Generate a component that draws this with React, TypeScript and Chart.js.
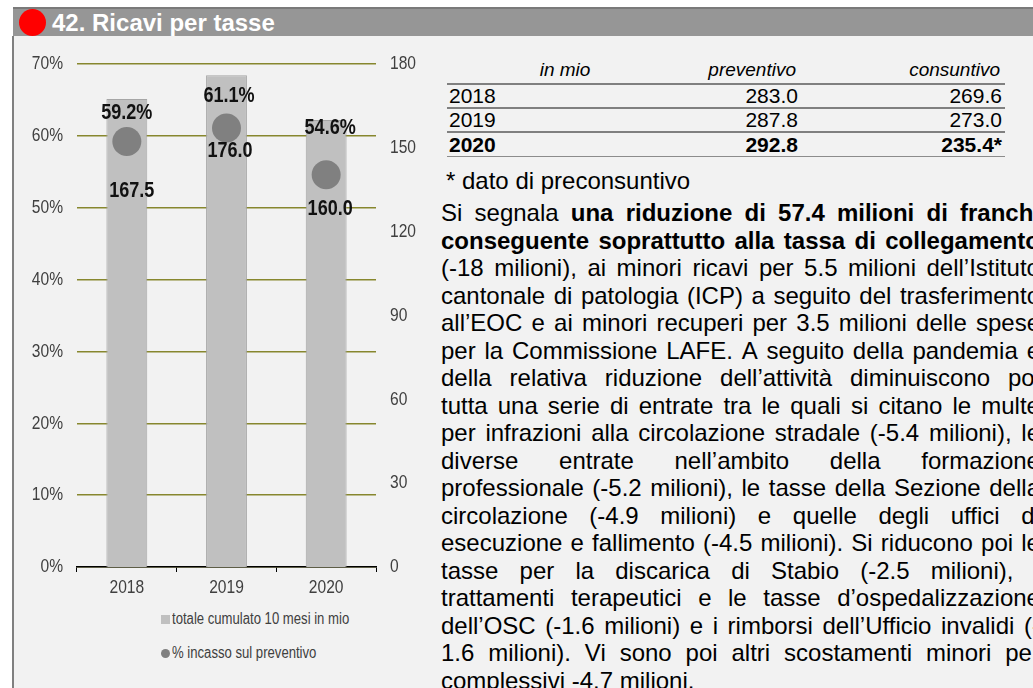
import React, { useEffect, useRef } from 'react';
import { Chart, registerables } from 'chart.js';

Chart.register(...registerables);

// ---------- data ----------
const title = '42. Ricavi per tasse';
const categories = ['2018', '2019', '2020'];
const totals = [167.5, 176.0, 160.0];
const pctIncasso = [59.2, 61.1, 54.6];
const leftTicks = [0, 10, 20, 30, 40, 50, 60, 70];
const rightTicks = [0, 30, 60, 90, 120, 150, 180];
const seriesLabels = ['totale cumulato 10 mesi in mio', '% incasso sul preventivo'];

const tableHeader = ['in mio', 'preventivo', 'consuntivo'];
const tableYears = ['2018', '2019', '2020'];
const tablePreventivo = ['283.0', '287.8', '292.8'];
const tableConsuntivo = ['269.6', '273.0', '235.4*'];
const footnote = '* dato di preconsuntivo';

const paragraphLines = [
  'Si segnala **una riduzione di 57.4 milioni di franchi**',
  '**conseguente soprattutto alla tassa di collegamento**',
  '(-18 milioni), ai minori ricavi per 5.5 milioni dell\u2019Istituto',
  'cantonale di patologia (ICP) a seguito del trasferimento',
  'all\u2019EOC e ai minori recuperi per 3.5 milioni delle spese',
  'per la Commissione LAFE. A seguito della pandemia e',
  'della relativa riduzione dell\u2019attivit\u00e0 diminuiscono poi',
  'tutta una serie di entrate tra le quali si citano le multe',
  'per infrazioni alla circolazione stradale (-5.4 milioni), le',
  'diverse entrate nell\u2019ambito della formazione',
  'professionale (-5.2 milioni), le tasse della Sezione della',
  'circolazione (-4.9 milioni) e quelle degli uffici di',
  'esecuzione e fallimento (-4.5 milioni). Si riducono poi le',
  'tasse per la discarica di Stabio (-2.5 milioni), i',
  'trattamenti terapeutici e le tasse d\u2019ospedalizzazione',
  'dell\u2019OSC (-1.6 milioni) e i rimborsi dell\u2019Ufficio invalidi (-',
  '1.6 milioni). Vi sono poi altri scostamenti minori per',
  'complessivi -4.7 milioni.',
];

// ---------- styles ----------
const SANS = "'Liberation Sans', Arial, sans-serif";
const NARROW_X = 0.82; // horizontal squeeze emulating a narrow face
const BAR_FILL = '#c0c0c0';
const BAR_EDGE = '#a6a6a6';
const POINT_FILL = '#808080';
const GRID = '#87872e';
const TICK_COLOR = '#404040';
const PCT_OFF = [[0, -29], [2.5, -32], [4, -47]];
const TOT_OFF = [[5, 49], [3.5, 22.5], [4, 34]];

function drawNarrow(ctx: any, text: string, x: number, y: number, align: string) {
  ctx.save();
  ctx.translate(x, y);
  ctx.scale(NARROW_X, 1);
  ctx.textAlign = align;
  ctx.fillText(text, 0, 0);
  ctx.restore();
}

const narrowTicksPlugin = {
  id: 'narrowTicks',
  afterDraw(chart: any) {
    const ctx = chart.ctx;
    const area = chart.chartArea;
    ctx.save();
    ctx.fillStyle = TICK_COLOR;
    ctx.font = `19px ${SANS}`;
    ctx.textBaseline = 'middle';
    const y = chart.scales.y;
    y.ticks.forEach((t: any, i: number) => {
      drawNarrow(ctx, t.value + '%', area.left - 14, y.getPixelForTick(i), 'right');
    });
    const y1 = chart.scales.y1;
    y1.ticks.forEach((t: any, i: number) => {
      drawNarrow(ctx, String(t.value), area.right + 14, y1.getPixelForTick(i), 'left');
    });
    const x = chart.scales.x;
    x.ticks.forEach((t: any, i: number) => {
      drawNarrow(ctx, String(x.getLabelForValue(t.value)), x.getPixelForTick(i), area.bottom + 21, 'center');
    });
    ctx.restore();
  },
};

const labelPlugin = {
  id: 'valueLabels',
  afterDatasetsDraw(chart: any) {
    const ctx = chart.ctx;
    const meta = chart.getDatasetMeta(1);
    ctx.save();
    ctx.fillStyle = '#111';
    ctx.font = `bold 22px ${SANS}`;
    ctx.textBaseline = 'middle';
    meta.data.forEach((p: any, i: number) => {
      drawNarrow(ctx, pctIncasso[i].toFixed(1) + '%', p.x + PCT_OFF[i][0], p.y + PCT_OFF[i][1], 'center');
      drawNarrow(ctx, totals[i].toFixed(1), p.x + TOT_OFF[i][0], p.y + TOT_OFF[i][1], 'center');
    });
    ctx.restore();
  },
};

function parseLine(line: string) {
  const parts = line.split('**');
  const words: { w: string; b: boolean }[] = [];
  parts.forEach((seg, k) => {
    seg.split(' ').filter((s) => s.length > 0).forEach((w) => words.push({ w, b: k % 2 === 1 }));
  });
  return words;
}

export default function App() {
  const canvasRef = useRef<HTMLCanvasElement | null>(null);

  useEffect(() => {
    if (!canvasRef.current) return;
    const chart = new Chart(canvasRef.current, {
      type: 'bar',
      data: {
        labels: categories,
        datasets: [
          {
            type: 'bar',
            label: seriesLabels[0],
            data: totals,
            yAxisID: 'y1',
            backgroundColor: BAR_FILL,
            borderColor: BAR_EDGE,
            borderWidth: { top: 1, left: 1, right: 1, bottom: 0 },
            borderSkipped: 'start',
            barPercentage: 0.41,
            categoryPercentage: 1,
            order: 2,
          },
          {
            type: 'line',
            label: seriesLabels[1],
            data: pctIncasso,
            yAxisID: 'y',
            showLine: false,
            pointRadius: 14.5,
            pointHoverRadius: 14.5,
            pointBackgroundColor: POINT_FILL,
            pointBorderWidth: 0,
            borderColor: POINT_FILL,
            order: 1,
          },
        ] as any,
      },
      options: {
        animation: false,
        responsive: false,
        maintainAspectRatio: false,
        layout: { padding: { top: 28, left: 0, right: 0, bottom: 0 } },
        plugins: { legend: { display: false }, tooltip: { enabled: false } },
        scales: {
          x: {
            offset: true,
            grid: { display: true, drawOnChartArea: false, drawTicks: true, tickLength: 5, color: '#000', offset: true },
            border: { display: true, color: '#000', width: 1.5 },
            ticks: { display: false },
            afterFit: (s: any) => { s.height = 29; },
          },
          y: {
            position: 'left',
            min: 0,
            max: 70,
            afterBuildTicks: (s: any) => { s.ticks = leftTicks.map((v) => ({ value: v })); },
            ticks: { display: false },
            grid: { color: GRID, lineWidth: 1.5, drawTicks: false },
            border: { display: false },
            afterFit: (s: any) => { s.width = 63; },
          },
          y1: {
            position: 'right',
            min: 0,
            max: 180,
            afterBuildTicks: (s: any) => { s.ticks = rightTicks.map((v) => ({ value: v })); },
            ticks: { display: false },
            grid: { display: false, drawTicks: false },
            border: { display: false },
            afterFit: (s: any) => { s.width = 44; },
          },
        },
      } as any,
      plugins: [labelPlugin, narrowTicksPlugin],
    });
    return () => chart.destroy();
  }, []);

  const lineH = 27.5;
  const legendText: any = {
    position: 'absolute', left: 172, height: 20, lineHeight: '20px', fontSize: 16, color: TICK_COLOR,
    whiteSpace: 'nowrap', transform: `scaleX(${NARROW_X})`, transformOrigin: 'left center',
  };

  return (
    <div style={{ position: 'absolute', left: 0, top: 0, width: 1033, height: 688, overflow: 'hidden', background: '#fff', fontFamily: SANS }}>
      {/* header */}
      <div style={{ position: 'absolute', left: 13, top: 7, right: 0, height: 27, background: '#969696', borderTop: '2px solid #7a7a7a' }} />
      <div style={{ position: 'absolute', left: 19, top: 9, width: 27, height: 27, borderRadius: '50%', background: '#ff0000' }} />
      <div style={{ position: 'absolute', left: 52, top: 8, height: 30, lineHeight: '30px', color: '#fff', fontWeight: 'bold', fontSize: 24, whiteSpace: 'nowrap' }}>{title}</div>
      {/* panel */}
      <div style={{ position: 'absolute', left: 12, top: 36, right: 0, bottom: 0, background: '#f2f2f2', borderLeft: '2px solid #808080' }} />

      {/* chart */}
      <canvas ref={canvasRef} width={406} height={560} style={{ position: 'absolute', left: 14, top: 36, width: 406, height: 560 }} />

      {/* legend */}
      <div style={{ position: 'absolute', left: 161, top: 615, width: 9, height: 9, background: BAR_FILL }} />
      <div style={{ ...legendText, top: 609 }}>{seriesLabels[0]}</div>
      <div style={{ position: 'absolute', left: 161, top: 649, width: 9, height: 9, borderRadius: '50%', background: POINT_FILL }} />
      <div style={{ ...legendText, top: 643 }}>{seriesLabels[1]}</div>

      {/* table */}
      <div style={{ position: 'absolute', left: 447, top: 57, width: 558, fontSize: 21, color: '#000' }}>
        <div style={{ display: 'flex', height: 26, alignItems: 'center', borderBottom: '2px solid #808080', fontStyle: 'italic', fontSize: 19 }}>
          <div style={{ width: 236, textAlign: 'center' }}>{tableHeader[0]}</div>
          <div style={{ width: 113, textAlign: 'right' }}>{tableHeader[1]}</div>
          <div style={{ width: 204, textAlign: 'right' }}>{tableHeader[2]}</div>
        </div>
        {tableYears.map((y, i) => (
          <div key={y} style={{
            display: 'flex', height: i === 2 ? 23 : 22, alignItems: 'center',
            borderBottom: i === 2 ? '1px solid #8c8c8c' : '2px solid #808080',
            fontWeight: i === 2 ? 'bold' : 'normal',
          }}>
            <div style={{ width: 236, paddingLeft: 2 }}>{y}</div>
            <div style={{ width: 113, textAlign: 'right' }}>{tablePreventivo[i]}</div>
            <div style={{ width: 204, textAlign: 'right' }}>{tableConsuntivo[i]}</div>
          </div>
        ))}
      </div>

      {/* footnote */}
      <div style={{ position: 'absolute', left: 446, top: 167, height: 28, lineHeight: '28px', fontSize: 24, whiteSpace: 'nowrap', color: '#000' }}>{footnote}</div>

      {/* paragraph */}
      <div style={{ position: 'absolute', left: 441, top: 199, width: 599, fontSize: 24, color: '#000' }}>
        {paragraphLines.map((line, i) => {
          const words = parseLine(line);
          const last = i === paragraphLines.length - 1;
          return (
            <div key={i} style={{ display: 'flex', justifyContent: last ? 'flex-start' : 'space-between', gap: last ? '0.278em' : 0, height: lineH, lineHeight: lineH + 'px', whiteSpace: 'nowrap' }}>
              {words.map((w, k) => (
                <span key={k} style={{ fontWeight: w.b ? 'bold' : 'normal' }}>{w.w}</span>
              ))}
            </div>
          );
        })}
      </div>
    </div>
  );
}
